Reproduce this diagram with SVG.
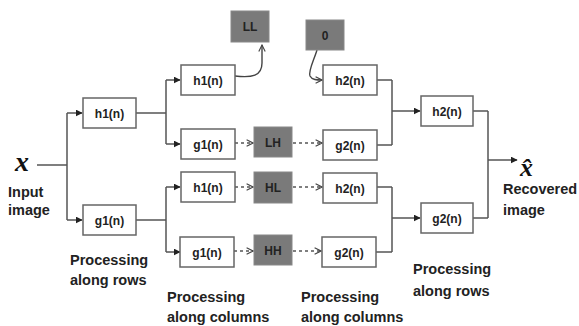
<svg xmlns="http://www.w3.org/2000/svg" width="579" height="326" viewBox="0 0 579 326">
  <defs>
    <marker id="solid" viewBox="0 0 10 10" refX="9" refY="5" markerWidth="7" markerHeight="7" markerUnits="userSpaceOnUse" orient="auto">
      <path d="M0,0 L10,5 L0,10 z" fill="#222"/>
    </marker>
    <marker id="open" viewBox="0 0 10 10" refX="9" refY="5" markerWidth="8" markerHeight="8" markerUnits="userSpaceOnUse" orient="auto">
      <path d="M1,1 L9,5 L1,9" fill="none" stroke="#444" stroke-width="1.4"/>
    </marker>
    <style>
      .box { fill: #fff; stroke: #666; stroke-width: 1.5; }
      .band { fill: #7a7a7a; stroke: #888; stroke-width: 1; }
      .lbl { font-family: "Liberation Sans", Arial, sans-serif; font-weight: bold; font-size: 12px; fill: #222; text-anchor: middle; }
      .cap { font-family: "Liberation Sans", Arial, sans-serif; font-weight: bold; font-size: 14.5px; fill: #222; }
      .sym { font-family: "Liberation Serif", "Times New Roman", serif; font-style: italic; font-weight: bold; font-size: 28px; fill: #111; }
      .wire { fill: none; stroke: #555; stroke-width: 1.5; }
      .arr { fill: none; stroke: #555; stroke-width: 1.5; marker-end: url(#solid); }
      .dash { fill: none; stroke: #555; stroke-width: 1.3; stroke-dasharray: 3 3; marker-end: url(#open); }
      .curve { fill: none; stroke: #444; stroke-width: 1.4; marker-end: url(#open); }
    </style>
  </defs>

  <rect width="579" height="326" fill="#fff"/>

  <!-- connectors -->
  <g id="connectors">
    <!-- input split -->
    <path class="wire" d="M37,165 H67 M67,113 V220"/>
    <path class="arr" d="M67,113 H82"/>
    <path class="arr" d="M67,220 H82"/>
    <!-- after row stage, low-pass branch -->
    <path class="wire" d="M136,113 H166 M166,80 V144"/>
    <path class="arr" d="M166,80 H180"/>
    <path class="arr" d="M166,144 H180"/>
    <!-- after row stage, high-pass branch -->
    <path class="wire" d="M136,220 H166 M166,187 V252"/>
    <path class="arr" d="M166,187 H180"/>
    <path class="arr" d="M166,252 H180"/>
    <!-- LL out, zero in -->
    <path class="curve" d="M235,76 C252,78 262,76 262,63 L262,45"/>
    <path class="curve" d="M317,50 C314,60 308,71 310,76 C312,80 317,80 322,80"/>
    <!-- subband paths -->
    <path class="dash" d="M235,143 H253"/>
    <path class="dash" d="M293,143 H322"/>
    <path class="dash" d="M235,187 H253"/>
    <path class="dash" d="M293,187 H322"/>
    <path class="dash" d="M234,251 H253"/>
    <path class="dash" d="M293,251 H321"/>
    <!-- column synthesis merge -->
    <path class="wire" d="M377,80 H392 M377,145 H392 M392,80 V145"/>
    <path class="arr" d="M392,111 H420"/>
    <path class="wire" d="M377,187 H392 M376,252 H392 M392,187 V252"/>
    <path class="arr" d="M392,218 H420"/>
    <!-- row synthesis merge -->
    <path class="wire" d="M473,111 H488 M473,218 H488 M488,111 V218"/>
    <path class="arr" d="M488,160 H517"/>
  </g>

  <!-- input / output symbols -->
  <g id="input">
    <text class="sym" x="15" y="171">x</text>
    <text class="cap" x="8" y="197">Input</text>
    <text class="cap" x="8" y="215">image</text>
  </g>
  <g id="output">
    <text class="sym" x="520" y="176" style="font-size:26px">x̂</text>
    <text class="cap" x="503" y="194">Recovered</text>
    <text class="cap" x="503" y="215">image</text>
  </g>

  <!-- row analysis -->
  <g id="a-h1"><rect class="box" x="83" y="98" width="53" height="30"/><text class="lbl" x="109.5" y="117.5">h1(n)</text></g>
  <g id="a-g1"><rect class="box" x="83" y="205" width="53" height="30"/><text class="lbl" x="109.5" y="224.5">g1(n)</text></g>

  <!-- column analysis -->
  <g id="a-h1-h1"><rect class="box" x="181" y="65" width="54" height="30"/><text class="lbl" x="208" y="84.5">h1(n)</text></g>
  <g id="a-h1-g1"><rect class="box" x="181" y="129" width="54" height="30"/><text class="lbl" x="208" y="148.5">g1(n)</text></g>
  <g id="a-g1-h1"><rect class="box" x="181" y="172" width="54" height="30"/><text class="lbl" x="208" y="191.5">h1(n)</text></g>
  <g id="a-g1-g1"><rect class="box" x="180" y="237" width="54" height="30"/><text class="lbl" x="207" y="256.5">g1(n)</text></g>

  <!-- subbands -->
  <g id="LL"><rect class="band" x="231" y="11" width="38" height="31"/><text class="lbl" x="250" y="31">LL</text></g>
  <g id="zero"><rect class="band" x="306" y="20" width="38" height="30"/><text class="lbl" x="325" y="39.5">0</text></g>
  <g id="LH"><rect class="band" x="254" y="127" width="38" height="30"/><text class="lbl" x="273" y="146.5">LH</text></g>
  <g id="HL"><rect class="band" x="254" y="172" width="38" height="31"/><text class="lbl" x="273" y="191.5">HL</text></g>
  <g id="HH"><rect class="band" x="254" y="235" width="38" height="30"/><text class="lbl" x="273" y="254.5">HH</text></g>

  <!-- column synthesis -->
  <g id="s-h2-a"><rect class="box" x="323" y="65" width="54" height="30"/><text class="lbl" x="350" y="84.5">h2(n)</text></g>
  <g id="s-g2-a"><rect class="box" x="323" y="130" width="54" height="30"/><text class="lbl" x="350" y="149.5">g2(n)</text></g>
  <g id="s-h2-b"><rect class="box" x="323" y="173" width="54" height="30"/><text class="lbl" x="350" y="192.5">h2(n)</text></g>
  <g id="s-g2-b"><rect class="box" x="322" y="237" width="54" height="30"/><text class="lbl" x="349" y="256.5">g2(n)</text></g>

  <!-- row synthesis -->
  <g id="s-h2"><rect class="box" x="421" y="96" width="52" height="30"/><text class="lbl" x="447" y="115.5">h2(n)</text></g>
  <g id="s-g2"><rect class="box" x="421" y="203" width="52" height="30"/><text class="lbl" x="447" y="222.5">g2(n)</text></g>

  <!-- stage captions -->
  <g id="captions">
    <text class="cap" x="70" y="265">Processing</text>
    <text class="cap" x="70" y="285">along rows</text>
    <text class="cap" x="167" y="302">Processing</text>
    <text class="cap" x="167" y="322">along columns</text>
    <text class="cap" x="301" y="302">Processing</text>
    <text class="cap" x="301" y="322">along columns</text>
    <text class="cap" x="413" y="274">Processing</text>
    <text class="cap" x="413" y="296">along rows</text>
  </g>
</svg>
